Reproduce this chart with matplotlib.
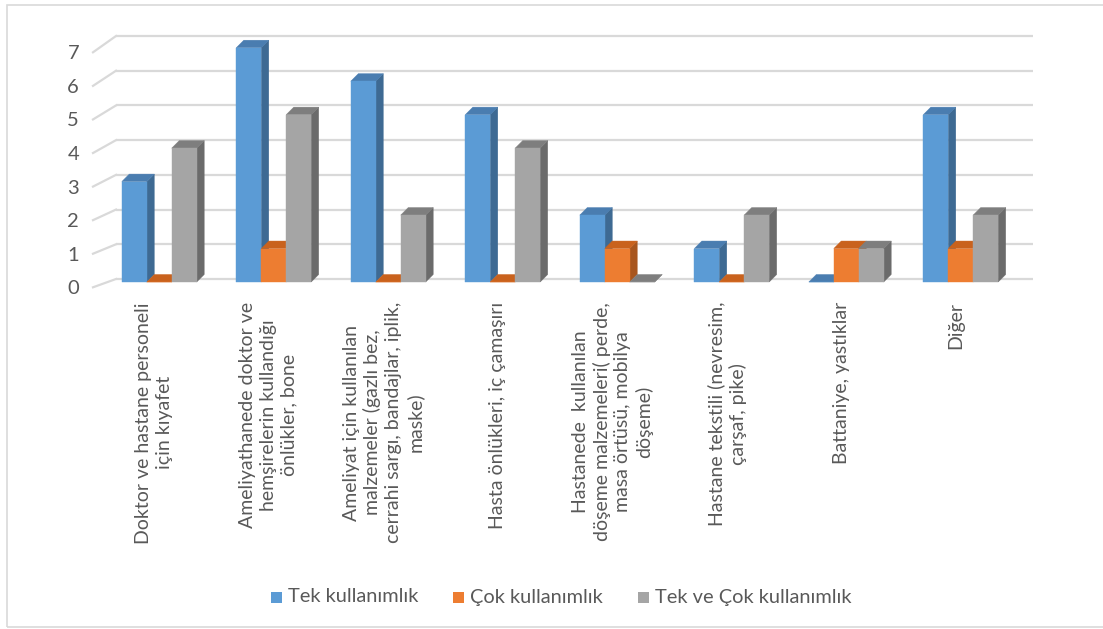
import matplotlib
matplotlib.use("Agg")
import matplotlib.pyplot as plt
import matplotlib.transforms as mtransforms
from matplotlib.patches import Polygon, Rectangle
import numpy as np

plt.rcParams['font.family'] = ['Lato', 'DejaVu Sans']

categories = [
    "Doktor ve hastane personeli\niçin kıyafet",
    "Ameliyathanede doktor ve\nhemşirelerin kullandığı\nönlükler, bone",
    "Ameliyat için kullanılan\nmalzemeler (gazlı bez,\ncerrahi sargı, bandajlar, iplik,\nmaske)",
    "Hasta önlükleri, iç çamaşırı",
    "Hastanede  kullanılan\ndöşeme malzemeleri( perde,\nmasa örtüsü, mobilya\ndöşeme)",
    "Hastane tekstili (nevresim,\nçarşaf, pike)",
    "Battaniye, yastıklar",
    "Diğer",
]
series_names = ["Tek kullanımlık", "Çok kullanımlık", "Tek ve Çok kullanımlık"]
tek = [3, 7, 6, 5, 2, 1, 0, 5]
cok = [0, 1, 0, 0, 1, 0, 1, 1]
tek_ve_cok = [4, 5, 2, 4, 0, 2, 1, 2]
y_ticks = [0, 1, 2, 3, 4, 5, 6, 7]

# face colours: (front, side, top)
palette = [
    ("#5B9BD5", "#3E6A93", "#4A7DB0"),
    ("#ED7D31", "#A8561E", "#C9621D"),
    ("#A5A5A5", "#6B6B6B", "#7E7E7E"),
]
text_color = "#595959"
grid_color = "#D9D9D9"

W, H = 1103, 629
fig = plt.figure(figsize=(W / 100, H / 100), dpi=100)
fig.patch.set_facecolor("white")


def px_axes(left, top, right, bottom, z):
    ax = fig.add_axes([left / W, 1 - bottom / H, (right - left) / W, (bottom - top) / H])
    ax.set_xlim(-0.5, len(categories) - 0.5)
    ax.set_ylim(0, 7)
    ax.patch.set_visible(False)
    for s in ax.spines.values():
        s.set_visible(False)
    ax.set_zorder(z)
    return ax


# three depth planes of the 3-D box: front edge, bar fronts, back wall
ax_back = px_axes(116, 36, 1033, 279, 1)
ax_front = px_axes(93, 52.3, 1010, 287.3, 2)
ax_bar = px_axes(102, 47.7, 1018, 282, 3)

for ax in (ax_back, ax_bar):
    ax.set_xticks([])
    ax.set_yticks([])

ax_front.set_xticks([])
ax_front.set_yticks(y_ticks)
ax_front.tick_params(axis="y", length=0, pad=10, labelsize=14.5, labelcolor=text_color)


def to_data(ax_src, ax_dst, pts, dx=0.0, dy=0.0):
    disp = ax_src.transData.transform(np.asarray(pts, dtype=float))
    disp = disp + np.array([dx, dy])
    return ax_dst.transData.inverted().transform(disp)


# gridlines on the back wall and along the left side wall
for v in y_ticks:
    ax_back.plot([-0.5, len(categories) - 0.5], [v, v], color=grid_color, lw=1.6,
                 clip_on=False, solid_capstyle="butt")
    seg = to_data(ax_front, ax_back, [(-0.5, v)])
    ax_back.plot([seg[0, 0], -0.5], [seg[0, 1], v], color=grid_color, lw=1.6,
                 clip_on=False)

# 3-D columns
bar_w = 0.218
depth = (7.5, 7.5)
series = [tek, cok, tek_ve_cok]
for i in range(len(categories)):
    for k, vals in enumerate(series):
        v = vals[i]
        xl = i + (k - 1.5) * bar_w
        xr = xl + bar_w
        front_c, side_c, top_c = palette[k]
        back_pts = to_data(ax_bar, ax_bar, [(xr, 0), (xr, v), (xl, v)], *depth)
        side = Polygon([(xr, 0), (xr, v), back_pts[1], back_pts[0]], closed=True,
                       facecolor=side_c, edgecolor=side_c, lw=0.3, clip_on=False)
        top = Polygon([(xl, v), (xr, v), back_pts[1], back_pts[2]], closed=True,
                      facecolor=top_c, edgecolor=top_c, lw=0.3, clip_on=False)
        front = Rectangle((xl, 0), bar_w, v, facecolor=front_c, edgecolor=front_c,
                          lw=0.3, clip_on=False)
        for p in (side, top, front):
            ax_bar.add_patch(p)

# category labels below the box, rotated and top-aligned
label_tr = mtransforms.blended_transform_factory(ax_front.transData, fig.transFigure)
label_tr = mtransforms.offset_copy(label_tr, fig=fig, x=3.5, y=0, units="dots")
for i, name in enumerate(categories):
    fig.text(i, 1 - 302 / H, name, transform=label_tr, rotation=90,
             rotation_mode="anchor", ha="right", va="center", multialignment="center",
             fontsize=14, color=text_color, linespacing=1.25)

# legend row: colour square followed by series name
legend_x = [271, 453, 638]
legend_y = 597
sq = 11
for k, name in enumerate(series_names):
    x0 = legend_x[k]
    fig.add_artist(Rectangle((x0 / W, 1 - (legend_y + sq / 2) / H), sq / W, sq / H,
                             transform=fig.transFigure, facecolor=palette[k][0],
                             edgecolor="none"))
    fig.text((x0 + sq + 6) / W, 1 - legend_y / H, name, ha="left", va="center",
             fontsize=14.4, color=text_color)

# thin outer frame of the chart area
fig.add_artist(Rectangle((7 / W, 1 - 627 / H), 1.2, (627 - 5) / H,
                         transform=fig.transFigure, facecolor="none",
                         edgecolor="#D9D9D9", lw=1.2))

fig.savefig("out.png", dpi=100, facecolor="white")
